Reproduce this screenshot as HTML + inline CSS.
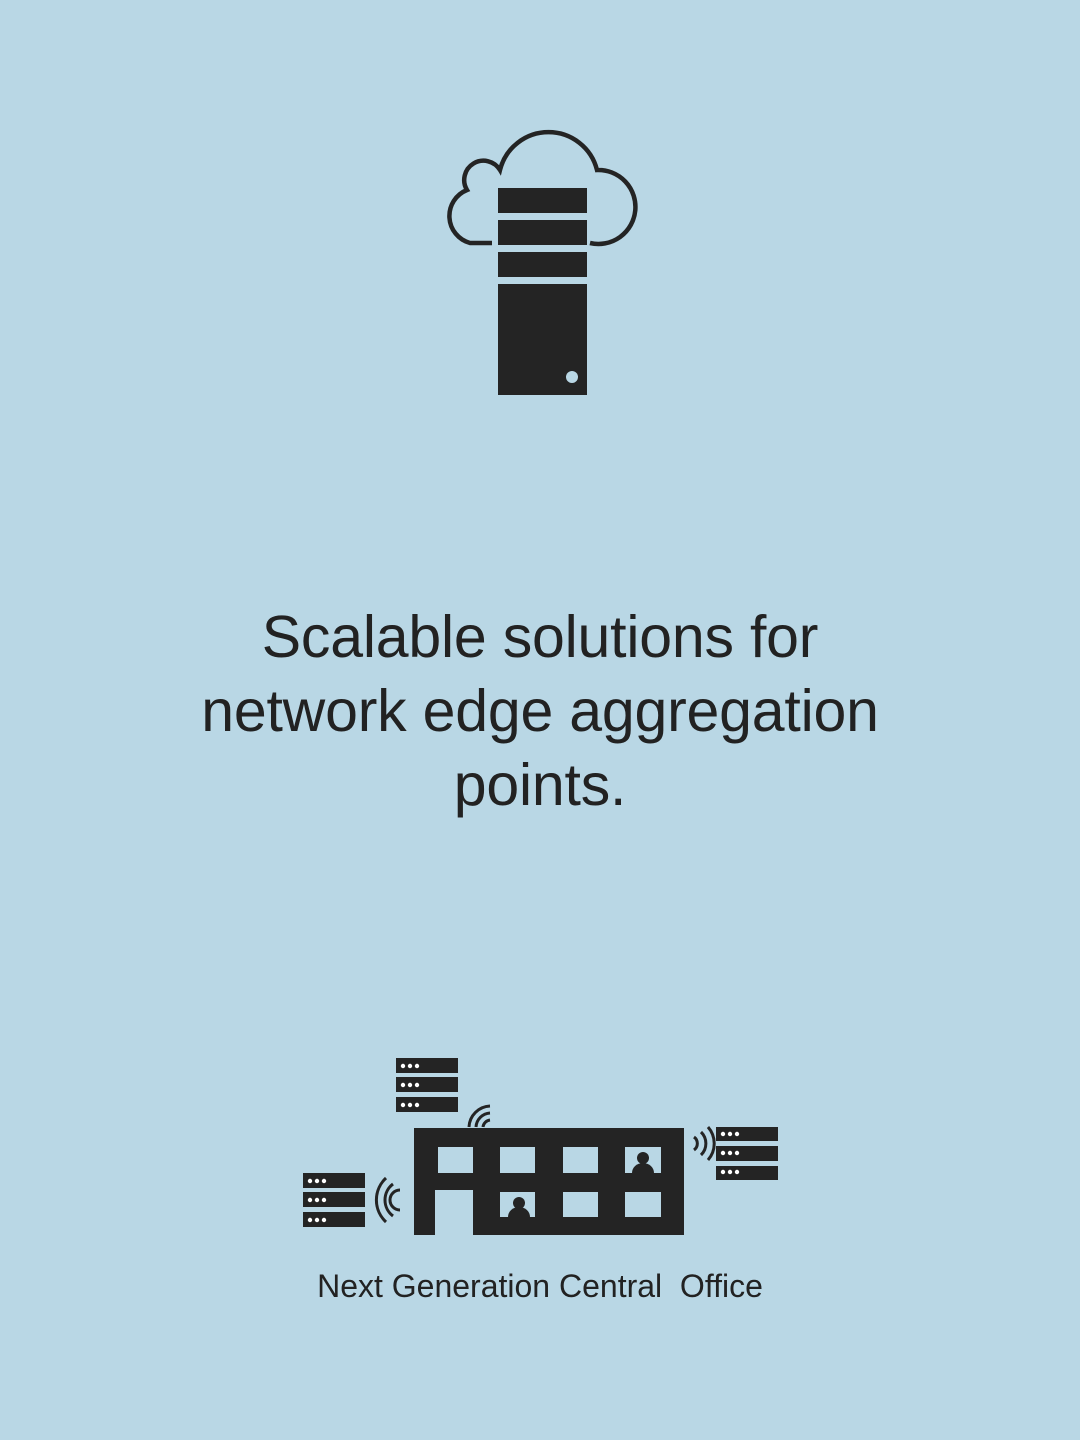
<!DOCTYPE html>
<html><head><style>
body{margin:0;width:1080px;height:1440px;background:#b9d7e5;position:relative;overflow:hidden;font-family:"Liberation Sans",sans-serif;color:#222}
.h{position:absolute;left:0;width:1080px;text-align:center;font-size:59px;line-height:74px;top:600px;letter-spacing:-0.2px}
.c{position:absolute;left:0;width:1080px;text-align:center;font-size:32px;top:1268px;letter-spacing:0}
</style></head><body>
<svg width="1080" height="1440" style="position:absolute;left:0;top:0">
<g fill="#242424">
<path d="M492 243 H470 A28 28 0 0 1 467 190 A18 18 0 0 1 500 170 A50 50 0 0 1 597 170 A37 37 0 1 1 590 243" fill="none" stroke="#242424" stroke-width="4.5"/>
<rect x="498" y="188" width="89" height="25"/>
<rect x="498" y="220" width="89" height="25"/>
<rect x="498" y="252" width="89" height="25"/>
<rect x="498" y="284" width="89" height="111"/>
<circle cx="572" cy="377" r="6" fill="#b9d7e5"/>
<path d="M414 1128 H684 V1235 H473 V1190 H435 V1235 H414 Z"/>
</g>
<g fill="#b9d7e5">
<rect x="438" y="1147" width="35" height="26"/><rect x="500" y="1147" width="35" height="26"/><rect x="563" y="1147" width="35" height="26"/><rect x="625" y="1147" width="36" height="26"/>
<rect x="500" y="1192" width="35" height="25"/><rect x="563" y="1192" width="35" height="25"/><rect x="625" y="1192" width="36" height="25"/>
</g>
<g fill="#242424">
<circle cx="643" cy="1158" r="6"/><path d="M632 1173 A11 10 0 0 1 654 1173Z"/>
<circle cx="519" cy="1203" r="6"/><path d="M508 1217 A11 10 0 0 1 530 1217Z"/>
</g>
<g fill="#242424">
<rect x="396" y="1058" width="62" height="15"/><rect x="396" y="1077" width="62" height="15"/><rect x="396" y="1097" width="62" height="15"/>
<rect x="303" y="1173" width="62" height="15"/><rect x="303" y="1192" width="62" height="15"/><rect x="303" y="1212" width="62" height="15"/>
<rect x="716" y="1127" width="62" height="14"/><rect x="716" y="1146" width="62" height="15"/><rect x="716" y="1166" width="62" height="14"/>
</g>
<g fill="#fff">
<g id="d"><circle cx="403" cy="1066" r="2.2"/><circle cx="410" cy="1066" r="2.2"/><circle cx="417" cy="1066" r="2.2"/></g>
<use href="#d" y="19"/><use href="#d" y="39"/>
<use href="#d" x="-93" y="115"/><use href="#d" x="-93" y="134"/><use href="#d" x="-93" y="154"/>
<use href="#d" x="320" y="68"/><use href="#d" x="320" y="87"/><use href="#d" x="320" y="106"/>
</g>
<g fill="none" stroke="#242424" stroke-width="3">
<path d="M469 1127 A22 22 0 0 1 490 1106"/><path d="M476 1127 A15 15 0 0 1 490 1113"/><path d="M483 1127 A8 8 0 0 1 490 1120"/>
<path d="M386 1178 A30 30 0 0 0 386 1222"/><path d="M393 1184 A20 20 0 0 0 393 1216"/><path d="M400 1190 A10 10 0 0 0 400 1210"/>
<path d="M708 1127 A25 25 0 0 1 708 1160"/><path d="M701 1132 A16 16 0 0 1 701 1155"/><path d="M694 1137 A8 8 0 0 1 694 1150"/>
</g>
</svg>
<div class="h">Scalable solutions for<br>network edge aggregation<br>points.</div>
<div class="c">Next Generation Central&nbsp; Office</div>
</body></html>
